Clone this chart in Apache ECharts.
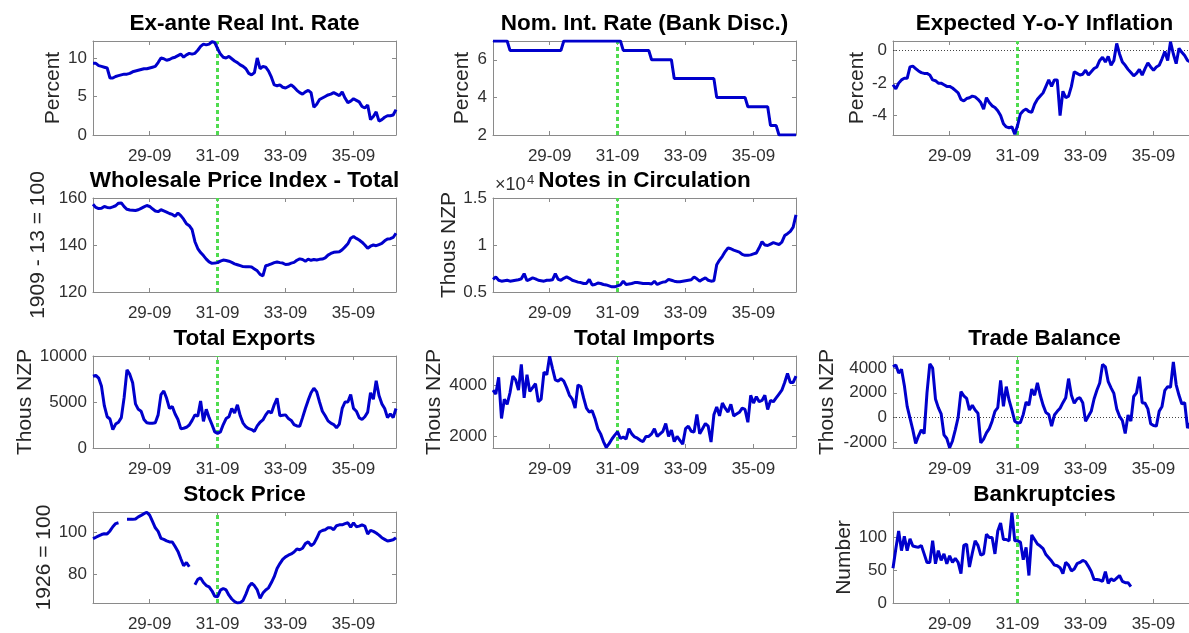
<!DOCTYPE html>
<html><head><meta charset="utf-8">
<script src="https://cdn.jsdelivr.net/npm/echarts@6/dist/echarts.min.js"></script>
<style>html,body{margin:0;padding:0;background:#fff;overflow:hidden}#c{width:1200px;height:633px}</style>
</head><body><div id="c"></div>
<script>
// ---- categories: monthly, Jan 1928 .. Dec 1936 (labels "yy-mm") ----
const categories = [];
for (let y = 1928; y <= 1936; y++) for (let m = 1; m <= 12; m++) categories.push(String(y).slice(2) + '-' + String(m).padStart(2, '0'));
const xTickLabels = ['29-09', '31-09', '33-09', '35-09'];
const crisisMonth = '31-09';

// ---- series ----
const exAnteRealRate = [9.3,9.3,9.0,8.9,8.8,8.7,7.4,7.4,7.6,7.7,
 7.8,7.9,7.9,8.0,8.2,8.3,8.4,8.5,8.6,8.6,
 8.7,8.8,8.9,9.4,10.0,9.9,9.7,9.8,10.0,10.1,
 10.3,10.5,10.1,10.4,10.6,10.5,10.6,11.0,11.5,11.8,
 11.7,11.8,12.1,12.0,11.2,10.5,10.1,10.0,10.2,9.9,
 9.6,9.4,9.1,8.9,8.6,8.0,7.8,8.1,10.0,8.6,
 8.9,8.8,8.3,7.5,6.5,6.4,6.5,6.2,6.1,6.3,
 6.5,6.2,5.8,5.5,5.3,5.6,5.8,5.5,3.6,4.0,
 4.6,4.8,5.0,5.2,5.3,5.5,5.3,5.1,5.6,4.8,
 4.2,4.4,4.7,4.5,4.3,3.7,3.5,3.9,2.0,2.4,
 3.0,1.8,2.0,2.3,2.5,2.5,2.6,3.3];
const nominalRate = [7,7,7,7,7,7,
 6.5,6.5,6.5,6.5,6.5,6.5,6.5,6.5,6.5,6.5,6.5,6.5,6.5,6.5,6.5,6.5,6.5,6.5,6.5,
 7,7,7,7,7,7,7,7,7,7,7,7,7,7,7,7,7,7,7,7,7,
 6.5,6.5,6.5,6.5,6.5,6.5,6.5,6.5,6.5,6.5,
 6,6,6,6,6,6,6,6,
 5,5,5,5,5,5,5,5,5,5,5,5,5,5,5,
 4,4,4,4,4,4,4,4,4,4,4,
 3.5,3.5,3.5,3.5,3.5,3.5,3.5,3.5,
 2.5,2.5,2.5,
 2,2,2,2,2,2,2];
const expectedInflation = [-2.1,-2.35,-2.0,-1.8,-1.7,-1.7,-1.0,-0.95,-1.1,-1.25,
 -1.35,-1.4,-1.4,-1.5,-1.8,-1.85,-2.0,-2.0,-2.1,-2.2,
 -2.2,-2.3,-2.45,-2.6,-3.0,-3.1,-2.95,-2.9,-2.8,-2.85,
 -3.0,-3.2,-3.6,-2.9,-3.2,-3.4,-3.5,-3.7,-4.0,-4.5,
 -4.7,-4.75,-4.7,-5.15,-4.6,-3.9,-3.7,-3.6,-3.75,-3.8,
 -3.3,-3.0,-2.8,-2.6,-2.2,-1.8,-2.2,-1.8,-1.8,-4.0,
 -2.5,-2.9,-2.8,-2.2,-1.3,-1.4,-1.5,-1.45,-1.2,-1.5,
 -1.3,-1.1,-1.0,-0.6,-0.4,-0.7,-0.35,-0.9,-0.6,0.45,
 -0.2,-0.7,-0.9,-1.15,-1.35,-1.55,-1.4,-1.15,-1.5,-1.1,
 -0.75,-1.0,-1.2,-1.0,-0.9,-0.5,-0.05,-0.6,0.55,-0.2,
 -0.8,0.15,-0.1,-0.3,-0.6,-0.7,-0.6,-0.7];
const wholesalePrice = [157.3,156.0,155.5,155.6,156.4,156.0,155.8,156.2,156.7,157.8,
 157.9,156.3,155.2,154.9,154.8,154.7,155.0,155.6,156.2,156.8,
 156.4,155.4,154.5,154.2,155.0,154.5,154.0,153.4,153.0,152.2,
 153.6,152.5,151.0,149.0,148.2,146.5,141.4,138.5,136.8,135.5,
 134.0,132.8,132.2,132.3,132.5,133.1,133.6,133.4,133.1,132.6,
 132.0,131.6,131.2,130.8,130.7,130.8,130.6,129.8,129.0,127.5,
 126.9,131.2,131.5,132.0,132.5,132.8,132.5,132.3,131.7,131.8,
 132.3,132.6,133.5,134.1,133.8,133.1,134.0,133.5,133.8,133.6,
 133.9,134.0,134.5,135.7,136.4,136.9,137.0,137.1,138.0,139.2,
 140.5,142.9,143.6,142.8,142.1,141.2,140.0,138.6,139.5,140.0,
 139.7,140.2,140.7,141.8,142.6,142.7,143.2,145.0];
const notesCirculation = [6350,6600,6250,6150,6200,6250,6150,6200,6250,6300,
 6400,6950,6200,6350,6500,6400,6250,6200,6150,6250,
 6250,6300,6950,6350,6250,6450,6600,6450,6250,6150,
 6050,6000,5900,5900,6350,5750,5800,5950,5900,5800,
 5750,5650,5550,5550,5650,5750,6150,5800,5850,5900,
 6000,6000,5950,5900,5900,5900,5850,6150,5800,5950,
 6050,6100,6350,6250,6150,6100,6100,6150,6200,6250,
 6300,6600,6400,6150,6350,6500,6250,6150,6200,7900,
 8400,8800,9300,9700,9600,9450,9350,9250,9000,8900,
 8900,8950,9050,9150,9700,10350,10000,9950,10100,10250,
 10150,10050,10300,11000,11200,11450,11900,13200];
const totalExports = [7800,7900,7600,6700,4600,3400,3150,2000,2600,2800,
 3300,5500,8500,8000,7100,4800,4200,4000,3100,2750,
 2700,2700,2750,3600,5800,6200,5400,4300,4500,3700,
 3100,2100,2150,2250,2500,3000,3600,3450,5100,2900,
 4200,3300,2550,1750,1600,1750,2550,3200,3400,4300,
 3800,4700,3500,2700,2300,2100,2000,1800,2400,2800,
 3050,3600,4000,3800,4700,5400,3500,3550,3600,3200,
 3000,2550,2400,2350,3300,4300,5200,6000,6500,6100,
 5000,4000,3500,2950,2700,2550,2200,2600,4300,5000,
 5000,5800,4300,4000,3300,3100,3400,3900,6000,5300,
 7300,5700,4800,4300,3300,3700,3300,4300];
const totalImports = [3800,3650,4300,2700,3450,3250,3700,4350,4200,3800,
 4800,3500,4400,3750,3900,4050,3350,3450,4500,4400,
 5120,4650,4200,4150,4250,4150,3900,3600,3450,3100,
 4000,3950,3500,3100,2950,3000,2700,2300,2100,1800,
 1570,1720,1900,2050,2180,1920,1980,1900,2300,2100,
 1980,1930,1850,1800,2000,2000,2100,2300,2000,2100,
 2200,2500,2000,2250,1800,2000,1850,1700,2300,2400,
 2200,2170,2850,2100,2300,2500,2400,1780,2840,3150,
 2800,3300,3100,2950,3250,2800,2870,2940,3100,3050,
 2550,3600,3300,3550,3350,3400,3600,3050,3400,3350,
 3500,3650,3800,4100,4450,4100,4100,4350];
const tradeBalance = [4100,4250,3600,3900,2600,900,-50,-1000,-2100,-1500,
 -1000,-1300,2000,4350,4000,1500,800,300,-1400,-1700,
 -2450,-1900,-1000,0,2100,1750,1550,600,1000,600,
 350,-2050,-1750,-1250,-900,-300,500,800,3000,900,
 2500,1400,600,-300,-450,-400,250,1250,1000,2300,
 1800,2800,1800,1000,400,250,-700,200,500,750,
 1200,1600,3150,1800,1150,1500,1600,1200,-300,100,
 500,1500,2200,2800,4300,4100,2900,2400,1950,700,
 100,-250,-1300,200,-300,1700,2000,3300,1200,1150,
 700,-500,-650,-700,500,900,2200,2500,2450,4500,
 2650,1800,1100,1200,-850,-450,-700,-600];
const stockPrice = [96.9,97.5,98.2,98.8,99.2,99.1,100.5,102.5,104.0,104.4,
 null,null,106.0,106.0,106.0,106.2,107.2,107.9,108.7,109.4,
 108.0,105.0,102.0,100.3,97.0,96.5,95.8,95.3,95.3,93.1,
 90.8,87.3,84.0,85.5,83.5,null,75.0,77.5,78.2,76.0,
 74.6,74.0,72.1,69.5,69.3,72.4,73.2,72.5,70.0,68.2,
 67.0,66.3,66.5,67.5,70.5,74.0,75.7,74.5,72.5,68.5,
 71.0,72.5,73.5,76.0,78.8,82.7,85.0,87.0,88.2,89.0,
 89.6,90.5,91.9,91.6,92.3,94.5,95.3,93.5,94.5,97.0,
 100.0,100.7,101.1,102.0,102.0,101.1,103.0,103.4,103.4,104.0,
 104.4,102.3,104.4,102.5,102.8,103.4,102.8,99.0,100.8,100.3,
 99.5,98.5,97.3,96.5,95.7,96.0,96.3,97.3];
const bankruptcies = [53,83,110,80,102,80,98,87,86,85,
 88,75,62,62,95,60,80,65,75,60,
 72,62,68,62,45,88,90,55,76,95,
 88,73,75,105,100,100,75,110,122,97,
 97,95,138,95,95,93,66,85,42,104,
 97,90,87,83,74,69,64,58,57,54,
 45,62,58,49,52,60,62,65,63,56,
 48,36,36,35,33,48,30,37,34,38,
 42,33,31,31,25];

// ---- y tick values ----
const yTicksExAnte = [0, 5, 10];
const yTicksNominal = [2, 4, 6];
const yTicksInflation = [-4, -2, 0];
const yTicksWholesale = [120, 140, 160];
const yTicksNotes = [5000, 10000, 15000];
const yTicksExports = [0, 5000, 10000];
const yTicksImports = [2000, 4000];
const yTicksTrade = [-2000, 0, 2000, 4000];
const yTicksStock = [80, 100];
const yTicksBankrupt = [0, 50, 100];

const FONT = '"Liberation Sans", Arial, Helvetica, sans-serif';
const colLeft = [93, 493, 893], rowTop = [41, 198, 356, 512], rowH = [94, 94, 92, 94], W = 303;
const BOX = '#8a8a8a', LBL = '#303030';

const panels = [
  {title: 'Ex-ante Real Int. Rate', data: exAnteRealRate, r: 0, c: 0, yName: 'Percent', min: 0, max: 12.2, ticks: yTicksExAnte, gap: 29},
  {title: 'Nom. Int. Rate (Bank Disc.)', data: nominalRate, r: 0, c: 1, yName: 'Percent', min: 2, max: 7, ticks: yTicksNominal, gap: 20},
  {title: 'Expected Y-o-Y Inflation', data: expectedInflation, r: 0, c: 2, yName: 'Percent', min: -5.2, max: 0.6, ticks: yTicksInflation, gap: 25, zero: true},
  {title: 'Wholesale Price Index - Total', data: wholesalePrice, r: 1, c: 0, yName: '1909 - 13 = 100', min: 120, max: 160, ticks: yTicksWholesale, gap: 44},
  {title: 'Notes in Circulation', data: notesCirculation, r: 1, c: 1, yName: 'Thous NZP', min: 5000, max: 15000, ticks: yTicksNotes, gap: 33, fmt: v => String(v / 10000)},
  {title: 'Total Exports', data: totalExports, r: 2, c: 0, yName: 'Thous NZP', min: 0, max: 10000, ticks: yTicksExports, gap: 56},
  {title: 'Total Imports', data: totalImports, r: 2, c: 1, yName: 'Thous NZP', min: 1550, max: 5130, ticks: yTicksImports, gap: 48},
  {title: 'Trade Balance', data: tradeBalance, r: 2, c: 2, yName: 'Thous NZP', min: -2470, max: 4980, ticks: yTicksTrade, gap: 55, zero: true},
  {title: 'Stock Price', data: stockPrice, r: 3, c: 0, yName: '1926 = 100', min: 66.3, max: 109.5, ticks: yTicksStock, gap: 38},
  {title: 'Bankruptcies', data: bankruptcies, r: 3, c: 2, yName: 'Number', min: 0, max: 139, ticks: yTicksBankrupt, gap: 37}
];

const grid = [], xAxis = [], yAxis = [], series = [], graphic = [];
const showTick = (i, v) => xTickLabels.includes(v);
panels.forEach((p, i) => {
  grid.push({left: colLeft[p.c], top: rowTop[p.r], width: W, height: rowH[p.r], containLabel: false});
  const line = {show: true, onZero: false, lineStyle: {color: BOX, width: 1}};
  const tick = {show: true, inside: true, length: 4, interval: showTick, lineStyle: {color: BOX, width: 1}};
  xAxis.push({type: 'category', gridIndex: i, data: categories, boundaryGap: false, axisLine: line, axisTick: tick,
    axisLabel: {interval: showTick, fontSize: 17, fontFamily: FONT, color: LBL, margin: 13}, splitLine: {show: false}});
  xAxis.push({type: 'category', gridIndex: i, position: 'top', data: categories, boundaryGap: false, axisLine: line, axisTick: tick,
    axisLabel: {show: false}, splitLine: {show: false}});
  const yt = {show: true, inside: true, length: 4, customValues: p.ticks, lineStyle: {color: BOX, width: 1}};
  yAxis.push({type: 'value', gridIndex: i, min: p.min, max: p.max, axisLine: line, axisTick: yt,
    axisLabel: {customValues: p.ticks, fontSize: 17, fontFamily: FONT, color: LBL, margin: 6, formatter: p.fmt || (v => String(v))},
    splitLine: {show: false}, name: p.yName, nameLocation: 'middle', nameGap: p.gap,
    nameTextStyle: {fontSize: 21, fontFamily: FONT, color: '#262626'}});
  yAxis.push({type: 'value', gridIndex: i, position: 'right', min: p.min, max: p.max, axisLine: line, axisTick: yt,
    axisLabel: {show: false}, splitLine: {show: false}});
  const ml = [{xAxis: crisisMonth, lineStyle: {color: '#4fdc4f', width: 3, type: [4, 3]}}];
  if (p.zero) ml.unshift({yAxis: 0, lineStyle: {color: '#444', width: 1, type: [1, 2]}});
  series.push({type: 'line', xAxisIndex: 2 * i, yAxisIndex: 2 * i, data: p.data, showSymbol: false, connectNulls: false,
    lineStyle: {color: '#0000cc', width: 3}, itemStyle: {color: '#0000cc'}, z: 3,
    markLine: {silent: true, symbol: ['none', 'none'], label: {show: false}, data: ml, z: 2}});
  graphic.push({type: 'text', x: colLeft[p.c] + W / 2, y: rowTop[p.r] - 29, silent: true,
    style: {text: p.title, font: 'bold 22.5px ' + FONT, fill: '#000', align: 'center', verticalAlign: 'top'}});
});
// exponent label for Notes in Circulation
graphic.push({type: 'text', x: 495, y: 194, silent: true, style: {text: '×10', font: '18px ' + FONT, fill: LBL, align: 'left', verticalAlign: 'bottom'}});
graphic.push({type: 'text', x: 527, y: 187, silent: true, style: {text: '4', font: '13px ' + FONT, fill: LBL, align: 'left', verticalAlign: 'bottom'}});

const chart = echarts.init(document.getElementById('c'), null, {renderer: 'canvas'});
chart.setOption({animation: false, backgroundColor: '#fff', grid, xAxis, yAxis, series, graphic});
</script></body></html>
